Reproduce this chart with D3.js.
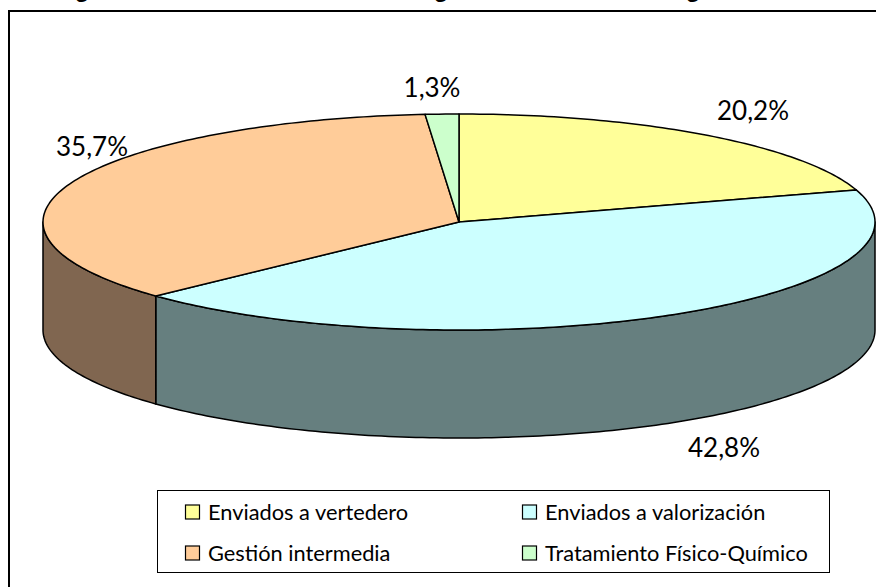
<!DOCTYPE html>
<html><head><meta charset="utf-8">
<script src="https://cdn.jsdelivr.net/npm/d3@7"></script>
<style>html,body{margin:0;padding:0;background:#fff}svg{display:block}text{font-family:Lato,"Open Sans",sans-serif;fill:#000}</style>
</head><body><div id="c"></div>
<script>
const categories=["Enviados a vertedero","Enviados a valorización","Gestión intermedia","Tratamiento Físico-Químico"];
const values=[20.2,42.8,35.7,1.3];
const valueLabels=["20,2%","42,8%","35,7%","1,3%"];
const topColors=["#FFFF99","#CCFFFF","#FFCC99","#CCFFCC"];
const sideColors=["#808053","#667F7F","#806650","#668066"];
const titleFragments=["g","g","g"];

const W=876,H=587,cx=459,cy=222,rx=416,ry=108,depth=108;
const svg=d3.select("#c").append("svg").attr("width",W).attr("height",H);

// chart frame
svg.append("rect").attr("x",9).attr("y",11).attr("width",W+20).attr("height",H+20).attr("fill","#fff").attr("stroke","#000").attr("stroke-width",2);

// clipped title: only descenders are visible
svg.selectAll(".tf").data(titleFragments).join("text").attr("class","tf")
  .attr("x",(d,i)=>[82,441,693][i]).attr("y",-3).attr("text-anchor","middle")
  .attr("font-size",24).attr("font-weight",700).style("font-family","Liberation Sans").text(d=>d);

const arcs=d3.pie().sort(null).value(d=>d)(values);
const px=a=>cx+rx*Math.sin(a), py=a=>cy-ry*Math.cos(a);
const line=d3.line();
const samples=(a0,a1)=>{const n=Math.max(2,Math.ceil((a1-a0)*60));return d3.range(n+1).map(i=>a0+(a1-a0)*i/n);};

// walls: only the front half (PI/2..3PI/2) is visible
const g=svg.append("g");
arcs.forEach((d,i)=>{
  const a0=Math.max(d.startAngle,Math.PI/2),a1=Math.min(d.endAngle,3*Math.PI/2);
  if(a1<=a0)return;
  const s=samples(a0,a1);
  const pts=s.map(a=>[px(a),py(a)]).concat(s.slice().reverse().map(a=>[px(a),py(a)+depth]));
  g.append("path").attr("d",line(pts)+"Z").attr("fill",sideColors[i]).attr("stroke","#000").attr("stroke-width",1.5).attr("stroke-linejoin","round");
});
// top slices
arcs.forEach((d,i)=>{
  const pts=[[cx,cy]].concat(samples(d.startAngle,d.endAngle).map(a=>[px(a),py(a)]));
  g.append("path").attr("d",line(pts)+"Z").attr("fill",topColors[i]).attr("stroke","#000").attr("stroke-width",1.5).attr("stroke-linejoin","round");
});

// value labels
const labelPos=[[753,111],[724,448],[92,147],[432,88]];
svg.selectAll(".vl").data(valueLabels).join("text").attr("class","vl")
  .attr("x",(d,i)=>labelPos[i][0]).attr("y",(d,i)=>labelPos[i][1]).attr("dy","0.36em")
  .attr("text-anchor","middle").attr("font-size",26).text(d=>d);

// legend
const lg=svg.append("g");
lg.append("rect").attr("x",157.5).attr("y",490.5).attr("width",672).attr("height",82).attr("fill","#fff").attr("stroke","#000");
const lx=[185,522],ly=[512,553];
categories.forEach((c,i)=>{
  const x=lx[i%2],y=ly[Math.floor(i/2)];
  lg.append("rect").attr("x",x+.5).attr("y",y-7).attr("width",14).attr("height",14).attr("fill",topColors[i]).attr("stroke","#000").attr("stroke-width",1.2);
  lg.append("text").attr("x",x+23).attr("y",y).attr("dy","0.36em").attr("font-size",21.8).text(c);
});
</script></body></html>
